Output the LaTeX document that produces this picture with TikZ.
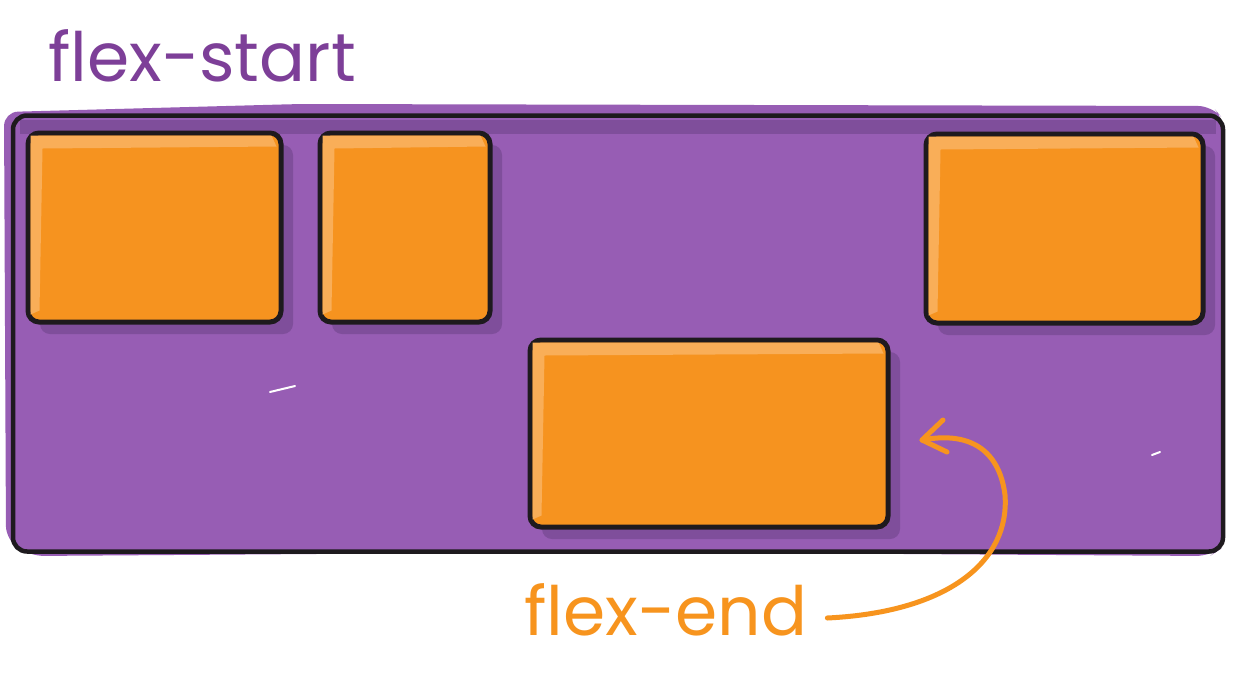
\documentclass[tikz,border=0pt]{standalone}
\usepackage{fontspec}
\setmainfont{Poppins}
\usetikzlibrary{arrows.meta}
\definecolor{pfill}{HTML}{975DB4}
\definecolor{pdark}{HTML}{7F4E9B}
\definecolor{ptext}{HTML}{7D3F98}
\definecolor{ofill}{HTML}{F6931F}
\definecolor{ohi}{HTML}{F9AE58}
\definecolor{otext}{HTML}{F7941E}
\definecolor{ink}{HTML}{1E1A1E}
\tikzset{
  item/.style={draw=ink, line width=5pt, rounded corners=11pt, fill=ofill},
  shade/.style={fill=pdark, rounded corners=10pt},
  hi/.style={fill=ohi},
  lbl/.style={font=\fontsize{68}{68}\selectfont, inner sep=0pt, anchor=base west},
}
\begin{document}
\begin{tikzpicture}[x=1pt,y=-1pt]
\useasboundingbox (0,0) rectangle (1237,694);
\fill[white] (0,0) rectangle (1237,694);
% purple container fill (sketchy)
\fill[pfill, rounded corners=14pt] (4,112) -- (300,104) -- (1212,106) -- (1224,120) -- (1222,548) -- (1210,556) -- (600,552) -- (30,556) -- (6,540) -- cycle;
% dark band under top border
\fill[pdark] (20,120) rectangle (1216,134);
% shadows
\fill[shade] (40,145) rectangle (293,334);
\fill[shade] (332,145) rectangle (502,334);
\fill[shade] (938,146) rectangle (1215,335);
\fill[shade] (542,352) rectangle (900,539);
% container outline
\node[draw=ink, line width=4.5pt, rounded corners=14pt, minimum width=1210pt, minimum height=436pt, inner sep=0pt] (box) at (618,333.5) {};
% items
\node[item, minimum width=253pt, minimum height=189pt, inner sep=0pt] (i1) at (154.5,227.5) {};
\node[item, minimum width=170pt, minimum height=189pt, inner sep=0pt] (i2) at (405,227.5) {};
\node[item, minimum width=277pt, minimum height=189pt, inner sep=0pt] (i3) at (1064.5,228.5) {};
\node[item, minimum width=358pt, minimum height=187pt, inner sep=0pt] (i4) at (709,433.5) {};
% highlights
\foreach \n in {i1,i2,i3,i4}{
  \fill[hi] ([xshift=5pt,yshift=-5pt]\n.north west) -- ([xshift=-12pt,yshift=-5pt]\n.north east) -- ([xshift=-7pt,yshift=-16pt]\n.north east) -- ([xshift=17pt,yshift=-18pt]\n.north west) -- ([xshift=14pt,yshift=14pt]\n.south west) -- ([xshift=5pt,yshift=10pt]\n.south west) -- cycle;
}
% white scratches
\draw[white, line width=2pt, line cap=round] (270,392) -- (295,386);
\draw[white, line width=2pt, line cap=round] (1152,455) -- (1160,452);
% labels
\node[lbl, text=ptext] (fs) at (48,81) {flex-start};
\node[lbl, text=otext] (fe) at (524,635) {flex-end};
% arrow
\coordinate (tip) at (922,440);
\draw[otext, line width=5pt, line cap=round] ([xshift=20pt,yshift=17pt]fe.base east) .. controls (950,612) and (1010,560) .. (1005,495) .. controls (1000,455) and (975,430) .. (tip);
\draw[otext, line width=5pt, line cap=round, line join=round] (943,420) -- (tip) -- (947,452);
\end{tikzpicture}
\end{document}
